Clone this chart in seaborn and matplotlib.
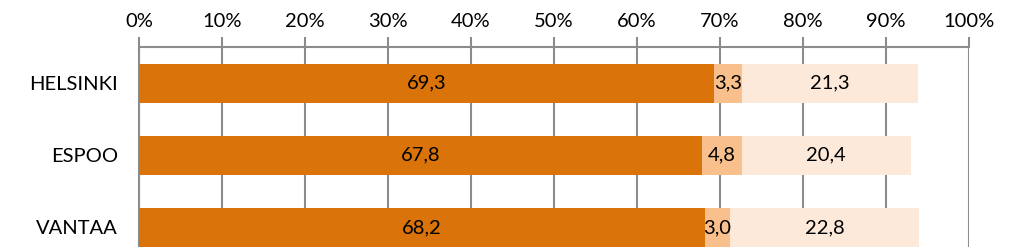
import matplotlib
matplotlib.use("Agg")
import matplotlib.pyplot as plt
import seaborn as sns
import numpy as np
import pandas as pd

cities = ["HELSINKI", "ESPOO", "VANTAA"]
seg1 = [69.3, 67.8, 68.2]
seg2 = [3.3, 4.8, 3.0]
seg3 = [21.3, 20.4, 22.8]
ticks = [0, 10, 20, 30, 40, 50, 60, 70, 80, 90, 100]

sns.set_theme(style="white")
plt.rcParams['font.family'] = ['Lato', 'DejaVu Sans']

c1, c2, c3 = "#D9730A", "#F9BF8C", "#FDE9D9"
grid_c = "#8C8C8C"

df = pd.DataFrame({"city": cities, "s1": seg1, "s2": seg2, "s3": seg3})
df["c2"] = df["s1"] + df["s2"]
df["c3"] = df["c2"] + df["s3"]

fig = plt.figure(figsize=(10.24, 2.47), dpi=100)
ax = fig.add_axes([139/1024, 1 - 263.5/247, 830/1024, 216.5/247])

for col, color in [("c3", c3), ("c2", c2), ("s1", c1)]:
    sns.barplot(data=df, x=col, y="city", orient="y", color=color, width=0.54,
                saturation=1, ax=ax, zorder=3, edgecolor="none", linewidth=0)

fs = 14.5
for i, r in df.iterrows():
    ax.text(r["s1"] / 2, i, f"{r['s1']:.1f}".replace(".", ","), ha="center", va="center", fontsize=fs, color="black", zorder=5)
    ax.text(r["s1"] + r["s2"] / 2, i, f"{r['s2']:.1f}".replace(".", ","), ha="center", va="center", fontsize=fs, color="black", zorder=5)
    ax.text(r["c2"] + r["s3"] / 2, i, f"{r['s3']:.1f}".replace(".", ","), ha="center", va="center", fontsize=fs, color="black", zorder=5)

ax.set_xlim(0, 100)
ax.set_ylim(2.5, -0.5)
ax.set_xticks(ticks)
ax.set_xticklabels([f"{t}%" for t in ticks])
ax.xaxis.tick_top()
ax.set_xlabel("")
ax.set_ylabel("")
ax.tick_params(axis="x", which="major", length=7, width=1.5, color=grid_c, labelsize=fs, pad=5, labelcolor="black")
ax.tick_params(axis="y", length=0, labelsize=fs, pad=15, labelcolor="black")
ax.grid(axis="x", color=grid_c, linewidth=1.5, zorder=0)
ax.grid(axis="y", visible=False)
ax.set_axisbelow(True)
for s in ["right", "bottom"]:
    ax.spines[s].set_visible(False)
for s in ["top", "left"]:
    ax.spines[s].set_visible(True)
    ax.spines[s].set_color(grid_c)
    ax.spines[s].set_linewidth(1.5)

fig.savefig("out.png", dpi=100)
